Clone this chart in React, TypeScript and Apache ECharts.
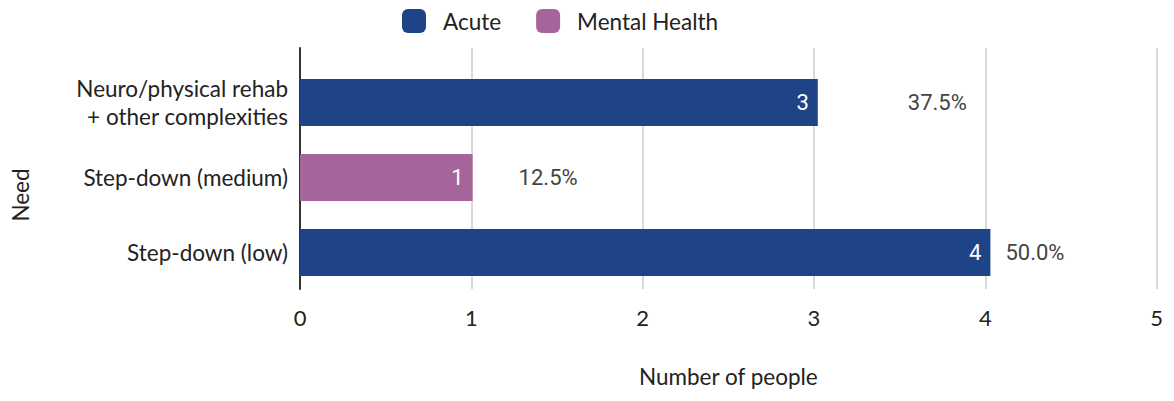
import React, { useEffect, useRef } from "react";
import * as echarts from "echarts";

const categories = ["Step-down (low)", "Step-down (medium)", "Neuro/physical rehab\n+ other complexities"];
const acute = [4, null, 3];
const mentalHealth = [null, 1, null];
const xTicks = [0, 1, 2, 3, 4, 5];

const labelFont = "Lato, 'Open Sans', sans-serif";
const dataFont = "Roboto, sans-serif";

export default function App() {
  const ref = useRef<HTMLDivElement>(null);
  useEffect(() => {
    if (!ref.current) return;
    const chart = echarts.init(ref.current, undefined, { renderer: "svg" });
    const totals = categories.map((_, i) => (acute[i] ?? 0) + (mentalHealth[i] ?? 0));
    const sum = totals.reduce((a, b) => a + b, 0);
    const pctOffsets = [10, 41, 85];
    const option: any = {
      animation: false,
      legend: {
        top: 1,
        left: 394,
        padding: 0,
        itemWidth: 24,
        itemHeight: 24,
        itemGap: 35,
        icon: "roundRect",
        textStyle: { fontFamily: labelFont, fontSize: 22.5, color: "#222", padding: [0, 0, 0, 12] },
        data: ["Acute", "Mental Health"],
      },
      graphic: [
        {
          type: "text",
          x: 12,
          y: 187,
          rotation: Math.PI / 2,
          style: {
            text: "Need",
            fontFamily: labelFont,
            fontSize: 22.5,
            fill: "#222",
            align: "center",
            verticalAlign: "middle",
          },
        },
      ],
      grid: [
        { left: 292, right: 3, top: 57, height: 225 },
        { left: 292, right: 3, top: 40, height: 254 },
      ],
      xAxis: [
        { type: "value", gridIndex: 0, min: 0, max: 5, interval: 1, show: false },
        {
          type: "value",
          gridIndex: 1,
          min: xTicks[0],
          max: xTicks[xTicks.length - 1],
          interval: 1,
          axisLine: { show: false },
          axisTick: { show: false },
          splitLine: { show: true, lineStyle: { color: "#cccccc", width: 1.5 } },
          axisLabel: { fontFamily: labelFont, fontSize: 22, color: "#222", margin: 17 },
          name: "Number of people",
          nameLocation: "middle",
          nameGap: 76,
          nameTextStyle: { fontFamily: labelFont, fontSize: 22.5, color: "#222" },
        },
      ],
      yAxis: [
        {
          type: "category",
          gridIndex: 0,
          data: categories,
          axisLine: { show: false },
          axisTick: { show: false },
          axisLabel: {
            fontFamily: labelFont,
            fontSize: 22.5,
            color: "#222",
            margin: 12,
            lineHeight: 28,
            align: "right",
          },
        },
        {
          type: "category",
          gridIndex: 1,
          data: [""],
          axisLine: { show: true, lineStyle: { color: "#333", width: 2 } },
          axisTick: { show: false },
          axisLabel: { show: false },
        },
      ],
      series: [
        {
          name: "Acute",
          type: "bar",
          stack: "t",
          xAxisIndex: 0,
          yAxisIndex: 0,
          barWidth: 47,
          itemStyle: { color: "#1e4387" },
          data: acute,
          label: {
            show: true,
            position: "insideRight",
            distance: 9,
            color: "#fff",
            fontFamily: dataFont,
            fontSize: 22,
          },
        },
        {
          name: "Mental Health",
          type: "bar",
          stack: "t",
          xAxisIndex: 0,
          yAxisIndex: 0,
          barWidth: 47,
          itemStyle: { color: "#a6659a" },
          data: mentalHealth,
          label: {
            show: true,
            position: "insideRight",
            distance: 9,
            color: "#fff",
            fontFamily: dataFont,
            fontSize: 22,
          },
        },
        {
          name: "pct",
          type: "bar",
          xAxisIndex: 0,
          yAxisIndex: 0,
          barWidth: 47,
          barGap: "-100%",
          silent: true,
          itemStyle: { color: "transparent" },
          data: totals.map((v, i) => ({
            value: v,
            label: { offset: [pctOffsets[i], 0] },
          })),
          label: {
            show: true,
            position: "right",
            distance: 5,
            color: "#444",
            fontFamily: dataFont,
            fontSize: 22,
            formatter: (p: any) => ((p.value / sum) * 100).toFixed(1) + "%",
          },
          z: 1,
        },
      ],
    };
    chart.setOption(option);
    return () => chart.dispose();
  }, []);
  return <div ref={ref} style={{ width: 1158, height: 385 }} />;
}
